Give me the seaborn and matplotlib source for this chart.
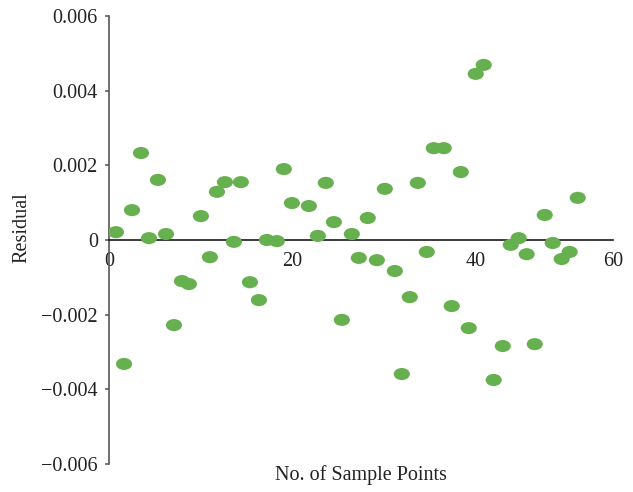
import numpy as np
import pandas as pd
import matplotlib
matplotlib.use("Agg")
import matplotlib.pyplot as plt
from matplotlib.path import Path
import seaborn as sns

# Data
sample_x = [0.76, 1.64, 2.51, 3.49, 4.36, 5.34, 6.22, 7.09, 7.96, 8.72,
            10.03, 11.01, 11.78, 12.65, 13.63, 14.39, 15.38, 16.36, 17.23, 18.32,
            19.08, 19.96, 21.81, 22.79, 23.66, 24.54, 25.41, 26.50, 27.26, 28.24,
            29.23, 30.10, 31.19, 31.95, 32.82, 33.70, 34.68, 35.44, 36.53, 37.40,
            38.39, 39.26, 40.02, 40.89, 41.98, 42.97, 43.84, 44.71, 45.58, 46.46,
            47.55, 48.42, 49.40, 50.27, 51.15]
residual = [0.00021, -0.00332, 0.00080, 0.00233, 0.00005, 0.00161, 0.00016, -0.00228, -0.00110, -0.00118,
            0.00064, -0.00046, 0.00129, 0.00155, -0.00005, 0.00155, -0.00113, -0.00161, 0.00000, -0.00003,
            0.00190, 0.00099, 0.00091, 0.00011, 0.00153, 0.00048, -0.00214, 0.00016, -0.00048, 0.00059,
            -0.00054, 0.00137, -0.00083, -0.00359, -0.00153, 0.00153, -0.00032, 0.00246, 0.00246, -0.00177,
            0.00182, -0.00236, 0.00445, 0.00469, -0.00375, -0.00284, -0.00013, 0.00005, -0.00038, -0.00279,
            0.00067, -0.00008, -0.00051, -0.00032, 0.00113]

y_ticks = [-0.006, -0.004, -0.002, 0, 0.002, 0.004, 0.006]
y_tick_labels = ["\u22120.006", "\u22120.004", "\u22120.002", "0", "0.002", "0.004", "0.006"]
x_ticks = [0, 20, 40, 55]
x_tick_labels = ["0", "20", "40", "60"]

df = pd.DataFrame({"x": sample_x, "y": residual})

sns.set_theme(style="white")
plt.rcParams["font.family"] = ["Liberation Serif", "DejaVu Serif"]

fig = plt.figure(figsize=(6.33, 4.92), dpi=100)
ax = fig.add_axes([109 / 633, 1 - 464 / 492, 504 / 633, 448 / 492])

circ = Path.unit_circle()
ellipse = Path(circ.vertices * np.array([1.0, 0.75]), circ.codes)

sns.scatterplot(data=df, x="x", y="y", ax=ax, marker=ellipse, s=135,
                color="#67B04F", edgecolor="none", linewidth=0, zorder=3)

ax.set_xlim(0, 55)
ax.set_ylim(-0.006, 0.006)

ax.spines["top"].set_visible(False)
ax.spines["right"].set_visible(False)
ax.spines["bottom"].set_position(("data", 0))
ax.spines["bottom"].set_color("#1a1a1a")
ax.spines["bottom"].set_linewidth(1.2)
ax.spines["left"].set_color("#555555")
ax.spines["left"].set_linewidth(1.2)

ax.set_yticks(y_ticks)
ax.set_yticklabels(y_tick_labels)
ax.set_xticks(x_ticks)
ax.set_xticklabels(x_tick_labels)

ax.tick_params(axis="y", direction="out", length=3, width=1.1, color="#555555",
               pad=5, labelsize=14.5, labelcolor="#222222", left=True)
ax.tick_params(axis="x", length=0, pad=9, labelsize=14.5, labelcolor="#222222", bottom=True)

ax.set_xlabel("No. of Sample Points", fontsize=14.5, color="#222222", va="center")
ax.xaxis.set_label_coords(0.5, -0.025)
ax.set_ylabel("Residual", fontsize=14.5, color="#222222", va="center")
ax.yaxis.set_label_coords(-0.173, 0.527)

fig.savefig("out.png", dpi=100)
